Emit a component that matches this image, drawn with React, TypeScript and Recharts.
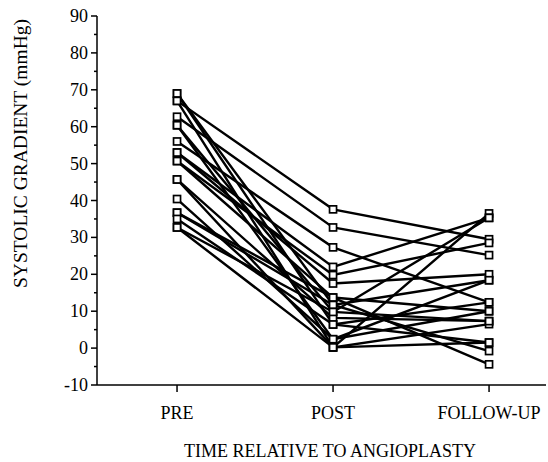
import React from 'react';
import { LineChart, Line, XAxis, YAxis } from 'recharts';

// momentos de medida
const timeLabels = ['PRE', 'POST', 'FOLLOW-UP'];

// gradiente sistólico de cada paciente (mmHg)
const preValues = [67, 62.7, 56, 69, 69, 67, 60.4, 60.4, 53, 53, 50.7, 50.7, 45.7, 45.7, 40.4, 36.7, 36.7, 35, 32.7, 32.7];
const postValues = [37.6, 32.7, 27.3, 6.4, 11.7, 0.2, 9.8, 2.4, 17.5, 22, 19.8, 13.7, 8.2, 0.2, 2.4, 13.7, 11.7, 6.4, 0.2, 9.8];
const followValues = [29.5, 25.2, 12.4, 1.5, -0.8, 36.5, 35.3, 18.4, 20, 35.3, 28.5, 10, 7.3, 6.5, 10, -4.4, 18.4, 12.4, 1.5, 7.3];

const yTicks = [-10, -5, 0, 5, 10, 15, 20, 25, 30, 35, 40, 45, 50, 55, 60, 65, 70, 75, 80, 85, 90];

const font = '"Liberation Serif", "Times New Roman", serif';

const patients = preValues.map((pre, i) => [
  { x: 0, y: pre },
  { x: 1, y: postValues[i] },
  { x: 2, y: followValues[i] },
]);

const SquareDot = (props: any) => {
  const { cx, cy } = props;
  if (cx == null || cy == null) return null;
  return <rect x={cx - 3.5} y={cy - 3.5} width={7} height={7} fill="#fff" stroke="#000" strokeWidth={1.7} />;
};

const YTick = (props: any) => {
  const { x, y, payload } = props;
  const v = payload.value;
  const major = v % 10 === 0;
  return (
    <g>
      <line x1={x - (major ? 6 : 3)} x2={x} y1={y} y2={y} stroke="#000" strokeWidth={1.5} />
      {major && (
        <text x={x - 9} y={y} dy={6} textAnchor="end" fontFamily={font} fontSize={18} fill="#000">
          {v}
        </text>
      )}
    </g>
  );
};

const XTick = (props: any) => {
  const { x, y, payload } = props;
  return (
    <g>
      <line x1={x} x2={x} y1={y} y2={y + 7} stroke="#000" strokeWidth={1.5} />
      <text x={x} y={y + 34} textAnchor="middle" fontFamily={font} fontSize={18} fill="#000">
        {timeLabels[payload.value]}
      </text>
    </g>
  );
};

const YLabel = (props: any) => {
  const { viewBox } = props;
  const cx = viewBox.x - 14;
  const cy = viewBox.y + viewBox.height / 2 - 47;
  return (
    <text x={cx} y={cy} transform={`rotate(-90 ${cx} ${cy})`} textAnchor="middle" dominantBaseline="middle" fontFamily={font} fontSize={19.5} fill="#000">
      SYSTOLIC GRADIENT (mmHg)
    </text>
  );
};

const XLabel = (props: any) => {
  const { viewBox } = props;
  const cx = 330;
  const cy = viewBox.y + 72;
  return (
    <text x={cx} y={cy} textAnchor="middle" fontFamily={font} fontSize={18} fill="#000">
      TIME RELATIVE TO ANGIOPLASTY
    </text>
  );
};

export default function App() {
  return (
    <div style={{ position: 'absolute', left: 0, top: 0, background: '#fff' }}>
      <LineChart width={548} height={462} margin={{ top: 16, right: 2, bottom: 27, left: 37 }}>
        <XAxis
          dataKey="x"
          type="number"
          domain={[-0.513, 2.365]}
          ticks={[0, 1, 2]}
          allowDataOverflow
          tick={<XTick />}
          tickLine={false}
          tickSize={0}
          tickMargin={0}
          height={50}
          axisLine={{ stroke: '#000', strokeWidth: 1.5 }}
          label={<XLabel />}
        />
        <YAxis
          type="number"
          domain={[-10, 90]}
          ticks={yTicks}
          interval={0}
          allowDataOverflow
          tick={<YTick />}
          tickLine={false}
          tickSize={0}
          tickMargin={0}
          width={60}
          axisLine={{ stroke: '#000', strokeWidth: 1.5 }}
          label={<YLabel />}
        />
        {patients.map((d, i) => (
          <Line
            key={i}
            data={d}
            dataKey="y"
            type="linear"
            stroke="#000"
            strokeWidth={2.4}
            dot={<SquareDot />}
            activeDot={false}
            isAnimationActive={false}
          />
        ))}
      </LineChart>
    </div>
  );
}
